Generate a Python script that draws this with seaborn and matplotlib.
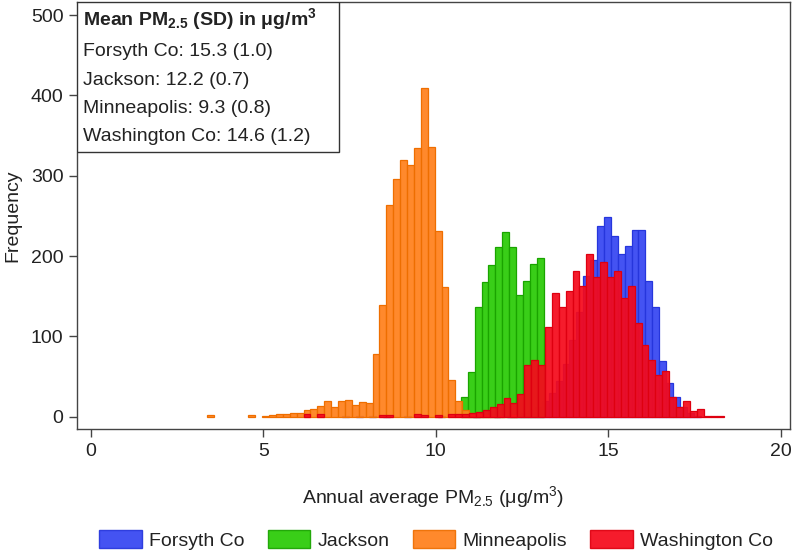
import numpy as np
import pandas as pd
import matplotlib
matplotlib.use('Agg')
import matplotlib.pyplot as plt
import seaborn as sns
from matplotlib.patches import Rectangle, Patch

# --- data (counts per 0.2 ug/m3 bin) ---
cities = ['Forsyth Co', 'Jackson', 'Minneapolis', 'Washington Co']
bin_width = 0.2
bin_start = {'Forsyth Co': 7.28, 'Jackson': 10.73,
             'Minneapolis': 3.37, 'Washington Co': 6.17}

forsyth_counts = [1, 0, 1, 0, 1, 0, 1, 0, 0, 1,
                  0, 0, 0, 0, 1, 0, 0, 0, 0, 1,
                  0, 0, 1, 0, 2, 3, 5, 8, 12, 20,
                  30, 45, 65, 95, 130, 175, 195, 237, 248, 225,
                  202, 212, 233, 233, 169, 137, 69, 42, 25, 12,
                  4, 1]
jackson_counts = [25, 55, 136, 168, 189, 211, 230, 211, 151, 169, 190, 198]
minneapolis_counts = [2, 0, 0, 0, 0, 0, 2, 0, 1, 2,
                      3, 3, 4, 5, 8, 9, 13, 20, 12, 19,
                      21, 14, 18, 17, 78, 139, 264, 296, 319, 313,
                      334, 409, 336, 231, 162, 46, 19, 8, 5, 3,
                      2, 1, 1, 0, 2]
washington_counts = [3, 0, 3, 0, 0, 0, 0, 0, 0, 0,
                     0, 2, 2, 0, 0, 0, 3, 2, 0, 2,
                     0, 3, 3, 3, 4, 6, 8, 12, 16, 23,
                     17, 28, 64, 71, 64, 112, 154, 137, 157, 181,
                     163, 202, 174, 192, 174, 181, 148, 163, 117, 89,
                     71, 52, 57, 25, 12, 20, 7, 10, 1, 1,
                     1]
all_counts = [forsyth_counts, jackson_counts, minneapolis_counts, washington_counts]

summary_title = 'Mean PM$_{2.5}$ (SD) in μg/m$^3$'
summary_lines = ['Forsyth Co: 15.3 (1.0)', 'Jackson: 12.2 (0.7)',
                 'Minneapolis: 9.3 (0.8)', 'Washington Co: 14.6 (1.2)']

fill_colors = {'Forsyth Co': '#3646f2', 'Jackson': '#2acb06',
               'Minneapolis': '#ff801c', 'Washington Co': '#f50a1c'}
edge_colors = {'Forsyth Co': '#2636dc', 'Jackson': '#1aa400',
               'Minneapolis': '#ee6e00', 'Washington Co': '#de0010'}

xticks = [0, 5, 10, 15, 20]
yticks = [0, 100, 200, 300, 400, 500]

# --- long table: one row per bin centre ---
rows = []
for city, counts in zip(cities, all_counts):
    for i, c in enumerate(counts):
        if c > 0:
            rows.append({'city': city,
                         'pm25': bin_start[city] + bin_width * (i + 0.5),
                         'n': c})
df = pd.DataFrame(rows)

sns.set_theme(style='ticks')
plt.rcParams['font.family'] = ['Liberation Sans', 'DejaVu Sans']
plt.rcParams['mathtext.fontset'] = 'custom'
plt.rcParams['mathtext.rm'] = 'Liberation Sans'
plt.rcParams['mathtext.bf'] = 'Liberation Sans:bold'
plt.rcParams['mathtext.default'] = 'regular'
dark = '#222222'

fig = plt.figure(figsize=(7.97, 5.52), dpi=100)
ax = fig.add_axes([0.097, 0.2223, 0.894, 0.7746])

for city, counts in zip(cities, all_counts):
    sub = df[df['city'] == city]
    edges = [bin_start[city] + bin_width * k for k in range(len(counts) + 1)]
    sns.histplot(data=sub, x='pm25', weights='n', bins=edges, ax=ax,
                 color=fill_colors[city], edgecolor=edge_colors[city],
                 linewidth=0.9, alpha=0.93, label=city)

# empty bins would leave an outline along the baseline
for p in ax.patches:
    if p.get_height() == 0:
        p.set_visible(False)

ax.set_xlim(-0.39, 20.27)
ax.set_ylim(-15.7, 516.6)
ax.set_xticks(xticks)
ax.set_yticks(yticks)
ax.tick_params(direction='out', length=6, width=1, color='#444444',
               labelsize=14, labelcolor=dark, pad=4)
for s in ax.spines.values():
    s.set_color('#444444')
    s.set_linewidth(1)

ax.set_xlabel('Annual average PM$_{2.5}$ (μg/m$^3$)', fontsize=14, color=dark)
ax.set_ylabel('Frequency', fontsize=14, color=dark)
ax.xaxis.set_label_coords(0.5, -0.128)
ax.yaxis.set_label_coords(-0.078, 0.5)

# summary box in the top-left corner
ax.add_patch(Rectangle((0, 0.649), 0.367, 0.351, transform=ax.transAxes,
                       facecolor='white', edgecolor='#333333', lw=1, zorder=5))
ax.text(0.008, 0.9595, summary_title, transform=ax.transAxes, fontsize=14,
        fontweight='bold', va='center', ha='left', color=dark, zorder=6)
for yy, line in zip([0.8847, 0.8169, 0.7514, 0.6836], summary_lines):
    ax.text(0.008, yy, line, transform=ax.transAxes, fontsize=14,
            va='center', ha='left', color=dark, zorder=6)

handles = [Patch(facecolor=fill_colors[c], edgecolor=edge_colors[c], alpha=0.93)
           for c in cities]
fig.legend(handles, cities, loc='center', bbox_to_anchor=(0.547, 0.0217),
           ncol=4, frameon=False, fontsize=14, handlelength=2.2,
           handleheight=1.0, handletextpad=0.35, columnspacing=1.2,
           labelcolor=dark)

fig.savefig('out.png', dpi=100)
